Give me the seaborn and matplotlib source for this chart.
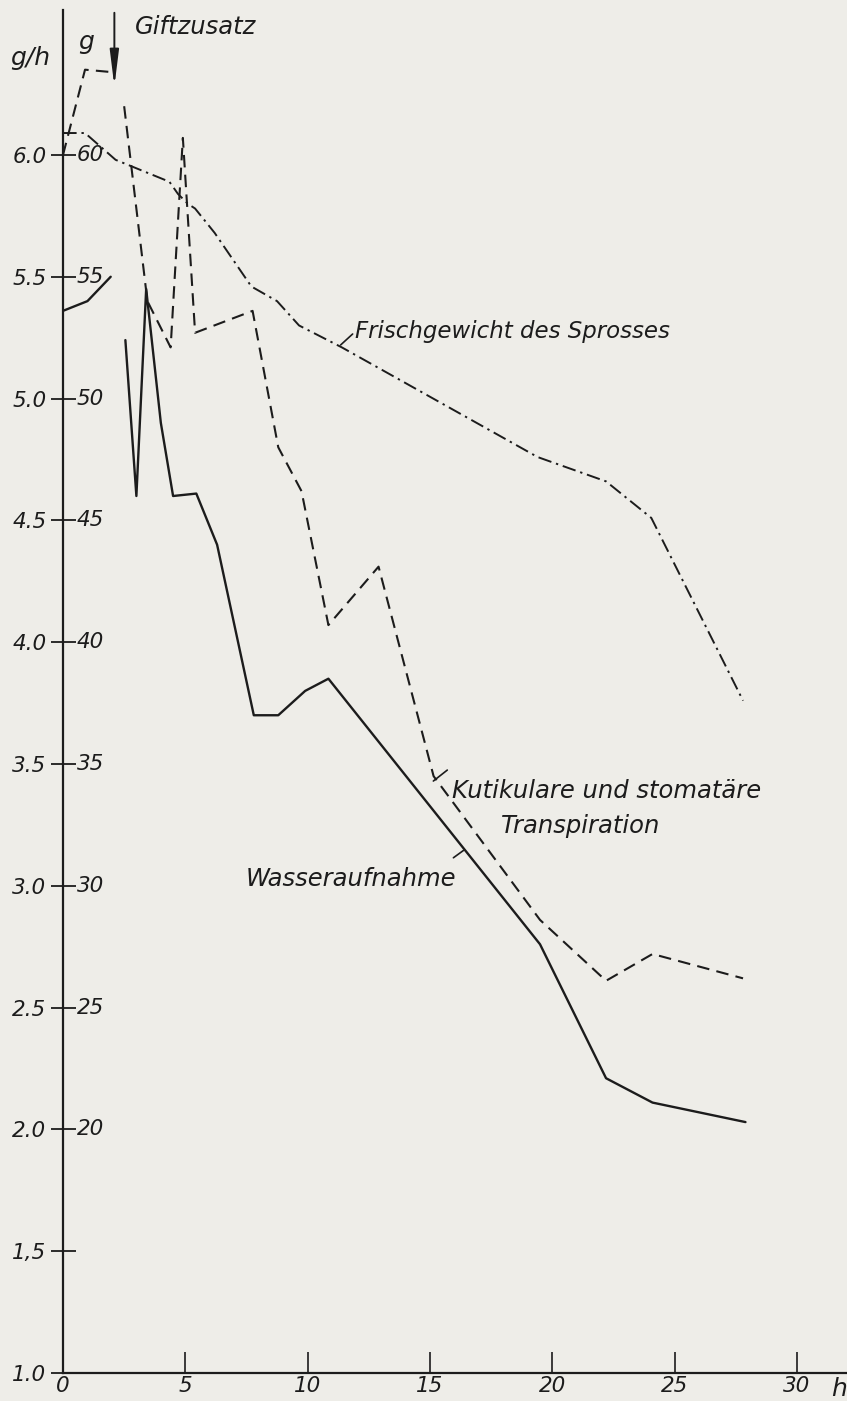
import numpy as np
import pandas as pd
import matplotlib
matplotlib.use("Agg")
import matplotlib.pyplot as plt
import seaborn as sns

# ---------------- data ----------------
# Kutikulare und stomatäre Transpiration (g/h), two segments (before / after Giftzusatz)
transp_t_a = [0, 0.9, 2.0]
transp_v_a = [6.00, 6.35, 6.34]
transp_t_b = [2.5, 3.45, 4.4, 4.9, 5.4, 7.75, 8.8, 9.75, 10.85, 12.9, 15.15, 19.5, 22.2, 24.1, 27.8]
transp_v_b = [6.20, 5.40, 5.21, 6.07, 5.27, 5.36, 4.80, 4.62, 4.07, 4.31, 3.45, 2.86, 2.61, 2.72, 2.62]

# Wasseraufnahme (g/h)
water_t_a = [0, 1.0, 1.95]
water_v_a = [5.36, 5.40, 5.50]
water_t_b = [2.55, 3.0, 3.4, 4.0, 4.5, 5.45, 6.3, 7.8, 8.8, 9.9, 10.85, 19.5, 22.2, 24.1, 27.9]
water_v_b = [5.24, 4.60, 5.45, 4.90, 4.60, 4.61, 4.40, 3.70, 3.70, 3.80, 3.85, 2.76, 2.21, 2.11, 2.03]

# Frischgewicht des Sprosses (g)
fresh_t = [0, 0.9, 2.15, 4.35, 4.7, 5.1, 5.4, 6.2, 7.7, 8.75, 9.65, 11.4, 19.4, 22.2, 24.05, 27.8]
fresh_g = [60.9, 60.9, 59.8, 58.9, 58.4, 58.0, 57.8, 56.8, 54.6, 54.0, 53.0, 52.1, 47.6, 46.6, 45.1, 37.6]

y_ticks = [1.0, 1.5, 2.0, 2.5, 3.0, 3.5, 4.0, 4.5, 5.0, 5.5, 6.0]
y_ticklabels = ["1.0", "1,5", "2.0", "2.5", "3.0", "3.5", "4.0", "4.5", "5.0", "5.5", "6.0"]
g_ticks = [20, 25, 30, 35, 40, 45, 50, 55, 60]
x_ticks = [0, 5, 10, 15, 20, 25, 30]

# ---------------- style ----------------
sns.set_style("white")
PAPER = "#eeede8"
INK = "#1c1c1c"
plt.rcParams["font.family"] = ["DejaVu Sans"]
plt.rcParams["font.style"] = "italic"

fig = plt.figure(figsize=(8.47, 14.01), dpi=100, facecolor=PAPER)
ax = fig.add_axes([63 / 847, 28 / 1401, 1 - 63 / 847, 1363 / 1401])
ax.set_facecolor(PAPER)

def seg_df(t_lists, v_lists):
    rows = []
    for i, (ts, vs) in enumerate(zip(t_lists, v_lists)):
        for t, v in zip(ts, vs):
            rows.append({"t": t, "v": v, "seg": i})
    return pd.DataFrame(rows)

df_transp = seg_df([transp_t_a, transp_t_b], [transp_v_a, transp_v_b])
df_water = seg_df([water_t_a, water_t_b], [water_v_a, water_v_b])
df_fresh = pd.DataFrame({"t": fresh_t, "v": np.array(fresh_g) / 10.0, "seg": 0})

sns.lineplot(data=df_transp, x="t", y="v", units="seg", estimator=None, sort=False,
             color=INK, lw=1.5, linestyle=(0, (6, 3.5)), ax=ax)
sns.lineplot(data=df_water, x="t", y="v", units="seg", estimator=None, sort=False,
             color=INK, lw=1.7, ax=ax)
sns.lineplot(data=df_fresh, x="t", y="v", units="seg", estimator=None, sort=False,
             color=INK, lw=1.4, linestyle=(0, (7, 2.5, 1.2, 2.5)), ax=ax)

ax.set_xlim(0, 32.05)
ax.set_ylim(1.0, 6.595)
ax.set_xlabel("")
ax.set_ylabel("")

for s in ["top", "right"]:
    ax.spines[s].set_visible(False)
for s in ["left", "bottom"]:
    ax.spines[s].set_color(INK)
    ax.spines[s].set_linewidth(1.6)

ax.set_yticks(y_ticks)
ax.set_yticklabels(y_ticklabels)
ax.set_xticks(x_ticks)
ax.set_xticklabels([str(x) for x in x_ticks])
ax.tick_params(axis="y", left=True, direction="inout", length=18, width=1.3, color=INK,
               labelsize=15.5, pad=3, labelcolor=INK)
ax.tick_params(axis="x", bottom=True, direction="in", length=15, width=1.2, color=INK,
               labelsize=15.5, pad=2, labelcolor=INK)

# g scale labels on the right side of the axis
for g in g_ticks:
    ax.annotate(str(g), xy=(0, g / 10.0), xycoords=("axes fraction", "data"),
                xytext=(10, 0), textcoords="offset points", ha="left", va="center",
                fontsize=15.5, color=INK)

# axis unit labels
fig.text(10 / 847, 1 - 58 / 1401, "g/h", fontsize=18, color=INK, va="center", ha="left")
fig.text(78 / 847, 1 - 42 / 1401, "g", fontsize=18, color=INK, va="center", ha="left")
ax.annotate("h", xy=(31.4, 0), xycoords=("data", "axes fraction"), xytext=(0, -3),
            textcoords="offset points", ha="left", va="top", fontsize=18, color=INK)

# Giftzusatz arrow and label
ax.annotate("", xy=(2.1, 6.27), xytext=(2.1, 6.595),
            arrowprops=dict(arrowstyle="-|>,head_length=1.2,head_width=0.15",
                            color=INK, lw=1.4, mutation_scale=18))
ax.text(2.95, 6.575, "Giftzusatz", fontsize=17.5, color=INK, ha="left", va="top")

# curve labels with leader ticks
ax.text(11.95, 5.25, "Frischgewicht des Sprosses", fontsize=16.5, color=INK,
        ha="left", va="baseline")
ax.plot([11.35, 11.84], [5.22, 5.265], color=INK, lw=1.2)

ax.text(15.9, 3.36, "Kutikulare und stomatäre", fontsize=17.5, color=INK,
        ha="left", va="baseline")
ax.text(17.9, 3.215, "Transpiration", fontsize=17.5, color=INK, ha="left", va="baseline")
ax.plot([15.14, 15.71], [3.43, 3.475], color=INK, lw=1.2)

ax.text(7.47, 3.0, "Wasseraufnahme", fontsize=17.5, color=INK, ha="left", va="baseline")
ax.plot([15.96, 16.37], [3.115, 3.145], color=INK, lw=1.2)

fig.savefig("out.png", dpi=100, facecolor=PAPER)
